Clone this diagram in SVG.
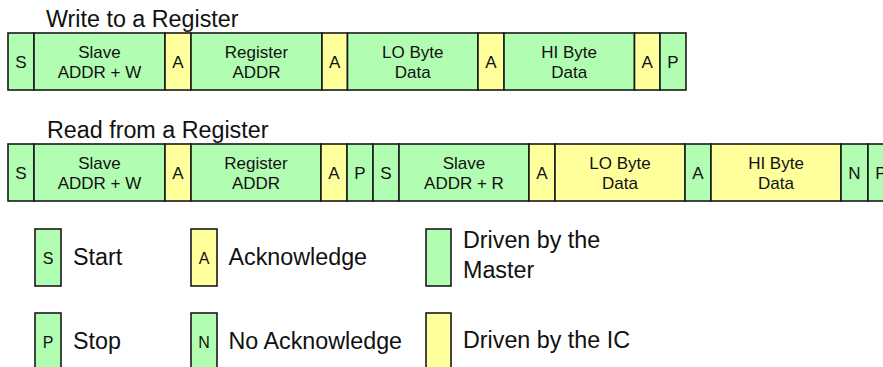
<svg xmlns="http://www.w3.org/2000/svg" width="883" height="367" viewBox="0 0 883 367">
  <style>
    .m { fill: #b1fdb1; stroke: #1a1a1a; stroke-width: 1.6; }
    .ic { fill: #ffff9c; stroke: #1a1a1a; stroke-width: 1.6; }
    text { font-family: "Liberation Sans", Arial, sans-serif; fill: #111; }
    .c { font-size: 17px; text-anchor: middle; }
    .k { font-size: 16px; text-anchor: middle; }
    .t { font-size: 23.3px; }
  </style>

  <!-- Write transaction -->
  <text class="t" x="46" y="27">Write to a Register</text>
  <g id="w-start"><rect class="m" x="8" y="33" width="26" height="57"/><text class="c" x="21" y="68">S</text></g>
  <g id="w-slave"><rect class="m" x="34" y="33" width="131" height="57"/><text class="c" x="99.5" y="57.5">Slave</text><text class="c" x="99.5" y="77.5">ADDR + W</text></g>
  <g id="w-ack1"><rect class="ic" x="165" y="33" width="26" height="57"/><text class="c" x="178" y="68">A</text></g>
  <g id="w-reg"><rect class="m" x="191" y="33" width="131" height="57"/><text class="c" x="256.5" y="57.5">Register</text><text class="c" x="256.5" y="77.5">ADDR</text></g>
  <g id="w-ack2"><rect class="ic" x="322" y="33" width="25.5" height="57"/><text class="c" x="334.7" y="68">A</text></g>
  <g id="w-lo"><rect class="m" x="347.5" y="33" width="130.5" height="57"/><text class="c" x="412.7" y="57.5">LO Byte</text><text class="c" x="412.7" y="77.5">Data</text></g>
  <g id="w-ack3"><rect class="ic" x="478" y="33" width="26" height="57"/><text class="c" x="491" y="68">A</text></g>
  <g id="w-hi"><rect class="m" x="504" y="33" width="130.5" height="57"/><text class="c" x="569.2" y="57.5">HI Byte</text><text class="c" x="569.2" y="77.5">Data</text></g>
  <g id="w-ack4"><rect class="ic" x="634.5" y="33" width="25.5" height="57"/><text class="c" x="647.2" y="68">A</text></g>
  <g id="w-stop"><rect class="m" x="660" y="33" width="26" height="57"/><text class="c" x="673" y="68">P</text></g>

  <!-- Read transaction (last cell runs past the right edge) -->
  <text class="t" x="47" y="137.5">Read from a Register</text>
  <g id="r-start"><rect class="m" x="8" y="144" width="26" height="57"/><text class="c" x="21" y="179">S</text></g>
  <g id="r-slave-w"><rect class="m" x="34" y="144" width="131" height="57"/><text class="c" x="99.5" y="168.5">Slave</text><text class="c" x="99.5" y="188.5">ADDR + W</text></g>
  <g id="r-ack1"><rect class="ic" x="165" y="144" width="26" height="57"/><text class="c" x="178" y="179">A</text></g>
  <g id="r-reg"><rect class="m" x="191" y="144" width="130" height="57"/><text class="c" x="256" y="168.5">Register</text><text class="c" x="256" y="188.5">ADDR</text></g>
  <g id="r-ack2"><rect class="ic" x="321" y="144" width="26" height="57"/><text class="c" x="334" y="179">A</text></g>
  <g id="r-stop1"><rect class="m" x="347" y="144" width="26" height="57"/><text class="c" x="360" y="179">P</text></g>
  <g id="r-start2"><rect class="m" x="373" y="144" width="26" height="57"/><text class="c" x="386" y="179">S</text></g>
  <g id="r-slave-r"><rect class="m" x="399" y="144" width="130" height="57"/><text class="c" x="464" y="168.5">Slave</text><text class="c" x="464" y="188.5">ADDR + R</text></g>
  <g id="r-ack3"><rect class="ic" x="529" y="144" width="26" height="57"/><text class="c" x="542" y="179">A</text></g>
  <g id="r-lo"><rect class="ic" x="555" y="144" width="130" height="57"/><text class="c" x="620" y="168.5">LO Byte</text><text class="c" x="620" y="188.5">Data</text></g>
  <g id="r-ack4"><rect class="m" x="685" y="144" width="26" height="57"/><text class="c" x="698" y="179">A</text></g>
  <g id="r-hi"><rect class="ic" x="711" y="144" width="130" height="57"/><text class="c" x="776" y="168.5">HI Byte</text><text class="c" x="776" y="188.5">Data</text></g>
  <g id="r-nack"><rect class="m" x="841" y="144" width="27" height="57"/><text class="c" x="854.5" y="179">N</text></g>
  <g id="r-stop2"><rect class="m" x="868" y="144" width="26" height="57"/><text class="c" x="881" y="179">P</text></g>

  <!-- Legend -->
  <g id="key-start"><rect class="m" x="35" y="229" width="26" height="57"/><text class="k" x="48" y="263.5">S</text><text class="t" x="73" y="265">Start</text></g>
  <g id="key-stop"><rect class="m" x="35" y="313" width="26" height="57"/><text class="k" x="48" y="347.5">P</text><text class="t" x="73" y="349">Stop</text></g>
  <g id="key-ack"><rect class="ic" x="191" y="229" width="26" height="57"/><text class="k" x="204" y="263.5">A</text><text class="t" x="228.5" y="265">Acknowledge</text></g>
  <g id="key-nack"><rect class="m" x="191" y="313" width="26" height="57"/><text class="k" x="204" y="347.5">N</text><text class="t" x="228.5" y="349">No Acknowledge</text></g>
  <g id="key-master"><rect class="m" x="426" y="229" width="25" height="57"/><text class="t" x="463" y="248">Driven by the</text><text class="t" x="463" y="278">Master</text></g>
  <g id="key-ic"><rect class="ic" x="426" y="313" width="25" height="57"/><text class="t" x="463" y="348">Driven by the IC</text></g>
</svg>
